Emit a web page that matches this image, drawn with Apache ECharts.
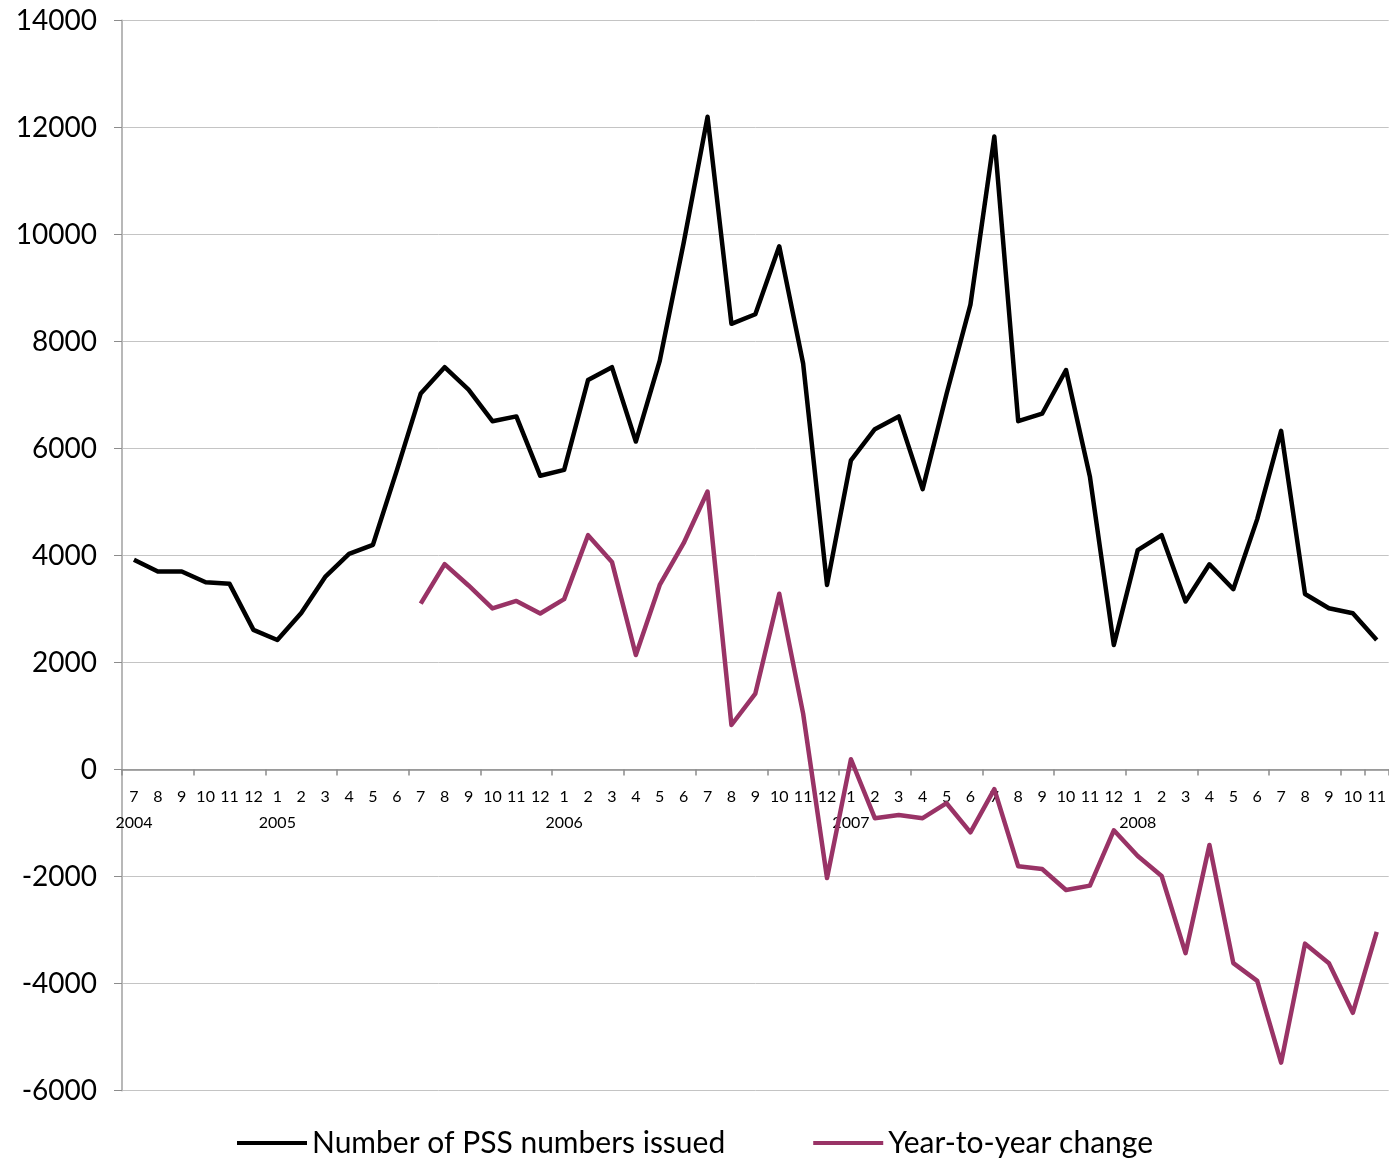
<!DOCTYPE html>
<html>
<head>
<meta charset="utf-8">
<script src="https://cdn.jsdelivr.net/npm/echarts@6/dist/echarts.min.js"></script>
<style>
  html, body { margin: 0; padding: 0; background: #ffffff; }
  #chart { width: 1389px; height: 1158px; }
</style>
</head>
<body>
<div id="chart"></div>
<script>
// Monthly periods, July 2004 to November 2008
const periods = [
  '2004-7','2004-8','2004-9','2004-10','2004-11','2004-12',
  '2005-1','2005-2','2005-3','2005-4','2005-5','2005-6','2005-7','2005-8','2005-9','2005-10','2005-11','2005-12',
  '2006-1','2006-2','2006-3','2006-4','2006-5','2006-6','2006-7','2006-8','2006-9','2006-10','2006-11','2006-12',
  '2007-1','2007-2','2007-3','2007-4','2007-5','2007-6','2007-7','2007-8','2007-9','2007-10','2007-11','2007-12',
  '2008-1','2008-2','2008-3','2008-4','2008-5','2008-6','2008-7','2008-8','2008-9','2008-10','2008-11'
];

// Number of PSS numbers issued per month
const issued = [
  3920, 3700, 3700, 3500, 3470, 2610,
  2420, 2925, 3600, 4030, 4200, 5590, 7030, 7520, 7100, 6510, 6600, 5490,
  5600, 7280, 7520, 6130, 7640, 9840, 12200, 8330, 8510, 9780, 7590, 3450,
  5780, 6360, 6600, 5240, 7020, 8690, 11830, 6510, 6650, 7467, 5470, 2327,
  4100, 4380, 3140, 3835, 3370, 4680, 6330, 3280, 3015, 2920, 2420
];

// Change against the same month one year earlier
const yoyChange = [
  null, null, null, null, null, null,
  null, null, null, null, null, null, 3100, 3840, 3440, 3010, 3150, 2915,
  3185, 4380, 3880, 2140, 3450, 4230, 5195, 832, 1420, 3285, 1045, -2030,
  192, -910, -850, -910, -630, -1175, -368, -1810, -1860, -2252, -2170, -1137,
  -1617, -1990, -3433, -1411, -3620, -3950, -5480, -3255, -3620, -4548, -3034
];

// Y axis scale
const yMin = -6000, yMax = 14000, yStep = 2000;

const seriesNames = ['Number of PSS numbers issued', 'Year-to-year change'];
const seriesColors = ['#000000', '#993366'];

const FONT = 'Lato, "Noto Sans", sans-serif';

const chart = echarts.init(document.getElementById('chart'), null, { renderer: 'canvas' });

chart.setOption({
  animation: false,
  backgroundColor: '#ffffff',
  grid: { left: 122, right: 0, top: 20.5, bottom: 67.5, containLabel: false },
  legend: {
    left: 232,
    top: 1123,
    itemWidth: 70,
    itemHeight: 4,
    itemGap: 88,
    icon: 'rect',
    textStyle: { fontFamily: FONT, fontSize: 30, color: '#000' },
    data: seriesNames
  },
  xAxis: {
    type: 'category',
    data: periods,
    boundaryGap: true,
    position: 'bottom',
    offset: 0,
    axisLine: { onZero: false, lineStyle: { color: '#8c8c8c', width: 1.5 } },
    axisTick: { show: true, interval: 2, length: 6, lineStyle: { color: '#8c8c8c', width: 1.5 } },
    axisLabel: {
      interval: 0,
      margin: 14,
      fontFamily: FONT,
      fontSize: 16,
      lineHeight: 26,
      color: '#000',
      formatter: function (value, index) {
        const parts = value.split('-');
        if (index === 0 || parts[1] === '1') return parts[1] + '\n' + parts[0];
        return parts[1];
      }
    },
    splitLine: { show: false }
  },
  yAxis: {
    type: 'value',
    min: yMin,
    max: yMax,
    interval: yStep,
    axisLine: { show: true, lineStyle: { color: '#b8b8b8', width: 2 } },
    axisTick: { show: true, length: 8, lineStyle: { color: '#8c8c8c', width: 1 } },
    axisLabel: {
      margin: 25,
      fontFamily: FONT,
      fontSize: 28,
      color: '#000',
      formatter: function (v) { return String(v); }
    },
    splitLine: { show: true, lineStyle: { color: '#c4c4c4', width: 1 } }
  },
  series: [
    {
      name: seriesNames[0],
      type: 'line',
      data: issued,
      symbol: 'none',
      connectNulls: false,
      color: seriesColors[0],
      lineStyle: { color: seriesColors[0], width: 4.5, join: 'round' }
    },
    {
      name: seriesNames[1],
      type: 'line',
      data: yoyChange,
      symbol: 'none',
      connectNulls: false,
      color: seriesColors[1],
      lineStyle: { color: seriesColors[1], width: 4.5, join: 'round' }
    }
  ]
});

// Lift the category axis (line, ticks and labels) up to the zero value line
const zeroY = chart.convertToPixel({ yAxisIndex: 0 }, 0);
const bottomY = chart.convertToPixel({ yAxisIndex: 0 }, yMin);
chart.setOption({ xAxis: { offset: zeroY - bottomY } });
</script>
</body>
</html>
